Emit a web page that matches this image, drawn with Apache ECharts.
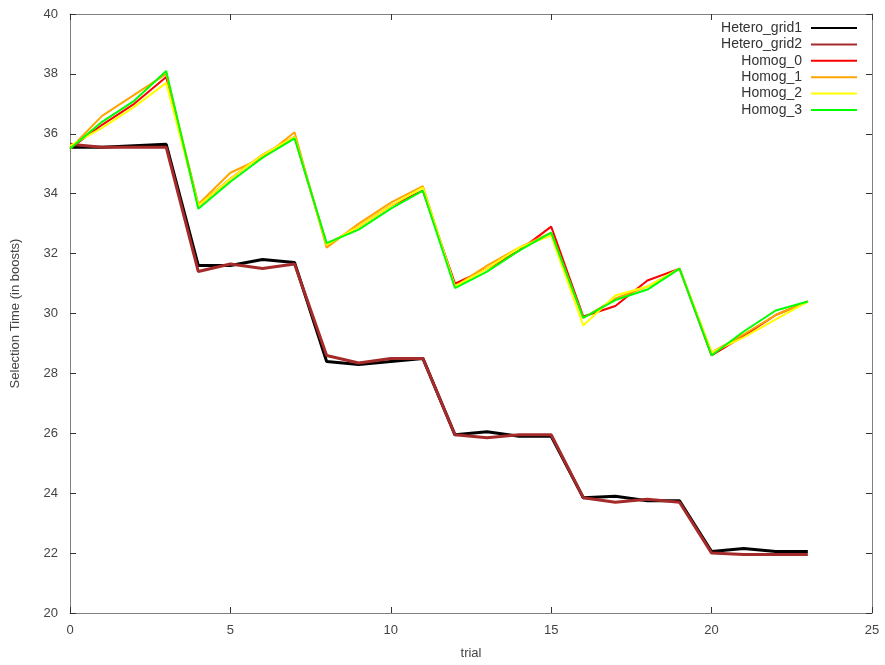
<!DOCTYPE html>
<html>
<head>
<meta charset="utf-8">
<script src="https://cdn.jsdelivr.net/npm/echarts@6/dist/echarts.min.js"></script>
<style>html,body{margin:0;padding:0;background:#fff}#c{width:885px;height:665px}</style>
</head>
<body>
<div id="c"></div>
<script>
var trials = [0,1,2,3,4,5,6,7,8,9,10,11,12,13,14,15,16,17,18,19,20,21,22,23];
var seriesNames = ['Hetero_grid1','Hetero_grid2','Homog_0','Homog_1','Homog_2','Homog_3'];
var heteroGrid1 = [35.55,35.55,35.6,35.65,31.6,31.6,31.8,31.7,28.4,28.3,28.4,28.5,25.95,26.05,25.9,25.9,23.85,23.9,23.75,23.75,22.05,22.15,22.05,22.05];
var heteroGrid2 = [35.65,35.55,35.55,35.55,31.4,31.65,31.5,31.65,28.6,28.35,28.5,28.5,25.95,25.85,25.95,25.95,23.85,23.7,23.8,23.7,22.0,21.95,21.95,21.95];
var homog0 = [35.5,36.3,37.0,37.9,33.6,34.5,35.3,35.9,32.3,32.9,33.6,34.1,31.0,31.5,32.1,32.9,29.9,30.25,31.1,31.5,28.6,29.25,29.95,30.4];
var homog1 = [35.5,36.6,37.3,38.0,33.65,34.7,35.2,36.05,32.2,33.0,33.7,34.25,30.9,31.6,32.2,32.7,29.85,30.5,30.9,31.5,28.7,29.3,29.95,30.4];
var homog2 = [35.6,36.2,36.9,37.7,33.6,34.5,35.3,35.9,32.3,32.9,33.6,34.2,30.9,31.5,32.2,32.6,29.6,30.6,30.9,31.5,28.7,29.2,29.8,30.4];
var homog3 = [35.5,36.4,37.1,38.1,33.5,34.4,35.2,35.85,32.35,32.8,33.5,34.1,30.85,31.4,32.1,32.7,29.85,30.45,30.8,31.5,28.6,29.4,30.1,30.4];
var xTicks = [0,5,10,15,20,25];
var yTicks = [20,22,24,26,28,30,32,34,36,38,40];

var allValues = [heteroGrid1, heteroGrid2, homog0, homog1, homog2, homog3];
var colors = ['#000000','#A52A2A','#FF0000','#FFA500','#FFFF00','#00FF00'];
var widths = [3,3,2,2,2,2];

function pairs(vals){ return trials.map(function(t,i){ return [t, vals[i]]; }); }

var font = 'Liberation Sans, Arial, sans-serif';
var txt = '#444';
var axisCommon = {
  axisLine: {show: true, onZero: false, lineStyle: {color: '#808080', width: 1}},
  axisTick: {show: true, inside: true, length: 6, lineStyle: {color: '#333'}},
  splitLine: {show: false}
};

var chart = echarts.init(document.getElementById('c'), null, {renderer: 'canvas'});
chart.setOption({
  animation: false,
  backgroundColor: '#fff',
  grid: {left: 70, right: 13, top: 14, bottom: 49, containLabel: false},
  legend: {
    orient: 'vertical', right: 22, top: 16, align: 'right',
    itemWidth: 46, itemHeight: 14, itemGap: 2.4,
    itemStyle: {opacity: 0},
    textStyle: {fontFamily: font, fontSize: 14, color: '#333', lineHeight: 14, padding: [0, 4, 0, 0]},
    data: seriesNames
  },
  xAxis: [
    Object.assign({type: 'value', min: xTicks[0], max: xTicks[xTicks.length-1], interval: 5, position: 'bottom',
      name: 'trial', nameLocation: 'middle', nameGap: 34,
      nameTextStyle: {fontFamily: font, fontSize: 13, color: txt},
      axisLabel: {fontFamily: font, fontSize: 13, color: txt, margin: 11}}, axisCommon),
    Object.assign({type: 'value', min: xTicks[0], max: xTicks[xTicks.length-1], interval: 5, position: 'top',
      axisLabel: {show: false}}, axisCommon)
  ],
  yAxis: [
    Object.assign({type: 'value', min: yTicks[0], max: yTicks[yTicks.length-1], interval: 2, position: 'left',
      name: 'Selection Time (in boosts)', nameLocation: 'middle', nameGap: 48, nameRotate: 90,
      nameTextStyle: {fontFamily: font, fontSize: 13, color: txt},
      axisLabel: {fontFamily: font, fontSize: 13, color: txt, margin: 12}}, axisCommon),
    Object.assign({type: 'value', min: yTicks[0], max: yTicks[yTicks.length-1], interval: 2, position: 'right',
      axisLabel: {show: false}}, axisCommon)
  ],
  series: seriesNames.map(function(n, i){
    return {
      name: n, type: 'line', data: pairs(allValues[i]), showSymbol: false, symbol: 'none',
      lineStyle: {color: colors[i], width: widths[i]}, itemStyle: {color: colors[i]},
      z: 2 + i
    };
  })
});
</script>
</body>
</html>
